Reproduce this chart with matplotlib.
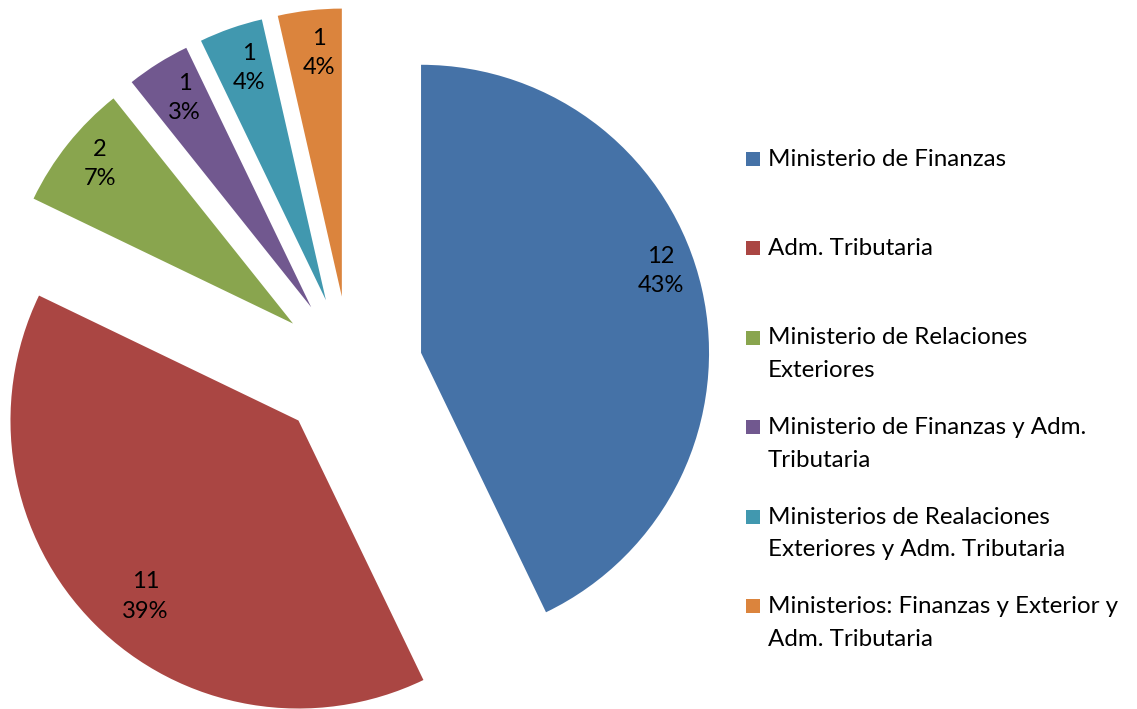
import numpy as np
import matplotlib.pyplot as plt
from matplotlib.patches import Rectangle

plt.rcParams['font.family'] = ['Lato', 'DejaVu Sans']

# datos
categorias = ['Ministerio de Finanzas',
              'Adm. Tributaria',
              'Ministerio de Relaciones\nExteriores',
              'Ministerio de Finanzas y Adm.\nTributaria',
              'Ministerios de Realaciones\nExteriores y Adm. Tributaria',
              'Ministerios: Finanzas y Exterior y\nAdm. Tributaria']
valores = [12, 11, 2, 1, 1, 1]
porcentajes = ['43%', '39%', '7%', '3%', '4%', '4%']
colores = ['#4572A7', '#AA4643', '#89A54E', '#71588F', '#4198AF', '#DB843D']

W, H = 1137, 709
fig = plt.figure(figsize=(W / 100, H / 100), dpi=100)
ax = fig.add_axes([0, 0, 1, 1])

wedges, _ = ax.pie(valores, colors=colores, startangle=90, counterclock=False,
                   explode=[0.253] * len(valores), radius=1.0,
                   wedgeprops=dict(linewidth=0))

# escala: radio 1 = 288 px, centro en (350, 369) px
r_px, cx, cy = 288.0, 350.0, 369.0
ax.set_aspect('auto')
ax.set_xlim(-cx / r_px, (W - cx) / r_px)
ax.set_ylim(-(H - cy) / r_px, cy / r_px)
ax.axis('off')

# etiquetas de datos
dist = [0.88, 0.81, 0.87, 0.85, 0.85, 0.85]
giro = [6, 4, -1, -1, -1, -1]
for i, w in enumerate(wedges):
    ang = np.deg2rad((w.theta1 + w.theta2) / 2 + giro[i])
    x0, y0 = w.center
    ax.text(x0 + dist[i] * np.cos(ang), y0 + dist[i] * np.sin(ang),
            f'{valores[i]}\n{porcentajes[i]}', ha='center', va='center',
            fontsize=17, linespacing=1.5, color='black')

# leyenda (cuadro alineado con la primera linea)
for i, (nombre, c) in enumerate(zip(categorias, colores)):
    top = 151.5 + 89.5 * i
    fig.patches.append(Rectangle((746 / W, 1 - (top + 14) / H), 14 / W, 14 / H,
                                 transform=fig.transFigure, facecolor=c,
                                 edgecolor='none'))
    for k, linea in enumerate(nombre.split('\n')):
        fig.text(768 / W, 1 - (top + 14 + 33 * k) / H, linea, ha='left',
                 va='baseline', fontsize=17.4, color='black')

fig.savefig('out.png', dpi=100)
